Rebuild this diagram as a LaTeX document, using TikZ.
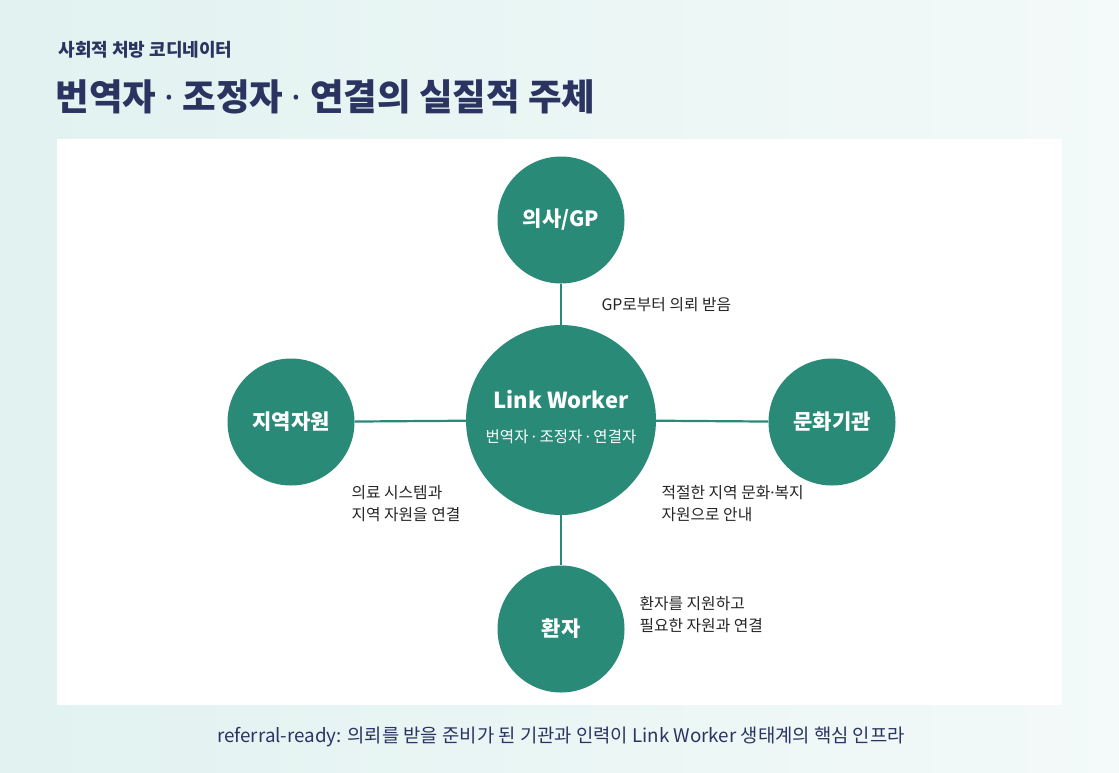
\documentclass[tikz,border=0pt]{standalone}
\usepackage{fontspec}
\setmainfont{Noto Sans CJK KR}
\newfontfamily\latinfont{Noto Sans}
\newcommand{\md}{{\latinfont ·}}
\usetikzlibrary{positioning}
\definecolor{teal}{HTML}{2A8A78}
\definecolor{navy}{HTML}{2B3461}
\definecolor{mint}{HTML}{E1F2F0}
\tikzset{
	hub/.style={circle, fill=teal, minimum size=190pt, inner sep=0pt, text=white, align=center},
	spoke/.style={circle, fill=teal, minimum size=127pt, inner sep=0pt, text=white, font=\fontsize{21}{24}\selectfont\bfseries},
	note/.style={anchor=west, align=left, text=black!85, font=\fontsize{15.8}{22}\selectfont},
	link/.style={draw=teal, line width=2.2pt}
}

\begin{document}
\begin{tikzpicture}[x=1pt, y=-1pt]
	\useasboundingbox (0,0) rectangle (1119,772);
	\shade[left color=mint, right color=mint!40!white] (0,0) rectangle (1119,772);
	\fill[white] (57,139) rectangle (1062,705);
	% titles
	\node[anchor=west, text=navy, font=\fontsize{18}{20}\selectfont\bfseries] (sub) at (55,50) {사회적 처방 코디네이터};
	\node[anchor=west, text=navy, font=\fontsize{36.5}{40}\selectfont\bfseries] (title) at (52,97) {번역자 \md{} 조정자 \md{} 연결의 실질적 주체};
	% circles
	\node[hub] (lw) at (561,420) {};
	\node[text=white, font=\fontsize{22}{26}\selectfont\bfseries] (lwname) at (561,400) {Link Worker};
	\node[text=white, font=\fontsize{15.5}{18}\selectfont] (lwrole) at (561,437) {번역자 \md{} 조정자 \md{} 연결자};
	\node[spoke] (gp) at (561,220) {의사/GP};
	\node[spoke] (res) at (291,422) {지역자원};
	\node[spoke] (cul) at (832,422) {문화기관};
	\node[spoke] (pat) at (561,629) {환자};
	\draw[link] (lw) -- (gp);
	\draw[link] (lw) -- (res);
	\draw[link] (lw) -- (cul);
	\draw[link] (lw) -- (pat);
	% notes
	\node[note] (n1) at (598,305) {GP로부터 의뢰 받음};
	\node[note] (n2) at (348,504) {의료 시스템과\\지역 자원을 연결};
	\node[note] (n3) at (658,504) {적절한 지역 문화\md{}복지\\자원으로 안내};
	\node[note] (n4) at (636,615) {환자를 지원하고\\필요한 자원과 연결};
	% footer
	\node[text=navy, font=\fontsize{18.8}{20}\selectfont] (foot) at (561,737) {referral-ready: 의뢰를 받을 준비가 된 기관과 인력이 Link Worker 생태계의 핵심 인프라};
\end{tikzpicture}
\end{document}
